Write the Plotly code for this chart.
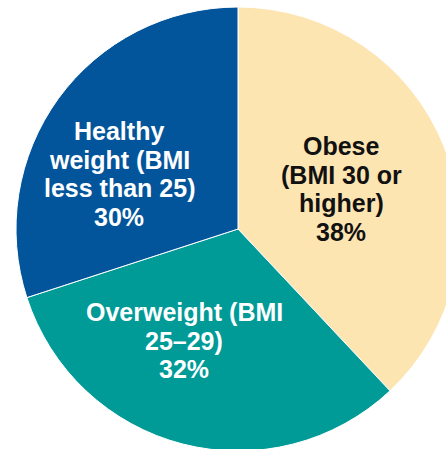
import plotly.graph_objects as go

categories = ["Obese (BMI 30 or higher)", "Overweight (BMI 25–29)", "Healthy weight (BMI less than 25)"]
values = [38, 32, 30]
colors = ["#FDE5B2", "#009A97", "#03559B"]
label_lines = [
    ["Obese", "(BMI 30 or", "higher)", "38%"],
    ["Overweight (BMI", "25–29)", "32%"],
    ["Healthy", "weight (BMI", "less than 25)", "30%"],
]
label_colors = ["#111111", "#FFFFFF", "#FFFFFF"]
# label block positions in pixels (x centre, first line centre y)
label_pos = [(341, 146), (184, 312), (119, 131)]
line_gap = 28.7

W, H = 460, 451
ML, MT = 16, 7
PW = PH = 444

fig = go.Figure(go.Pie(
    labels=categories,
    values=values,
    sort=False,
    direction="clockwise",
    rotation=0,
    marker=dict(colors=colors, line=dict(color="#FFFFFF", width=1)),
    textinfo="none",
    hoverinfo="label+percent",
    showlegend=False,
))

annotations = []
for lines, col, (px, py) in zip(label_lines, label_colors, label_pos):
    for i, t in enumerate(lines):
        y = py + i * line_gap
        annotations.append(dict(
            text="<b>" + t + "</b>",
            x=(px - ML) / PW, y=(MT + PH - y) / PH,
            xref="paper", yref="paper",
            xanchor="center", yanchor="middle",
            showarrow=False,
            font=dict(family="Liberation Sans, Arial, sans-serif", size=25, color=col),
        ))

fig.update_layout(
    width=W, height=H,
    margin=dict(l=ML, r=W - ML - PW, t=MT, b=H - MT - PH, pad=0),
    paper_bgcolor="#FFFFFF",
    plot_bgcolor="#FFFFFF",
    annotations=annotations,
)

fig.write_html("out.html", config={"displayModeBar": False},
               post_script="document.body.style.margin='0';document.body.style.overflow='hidden';")
